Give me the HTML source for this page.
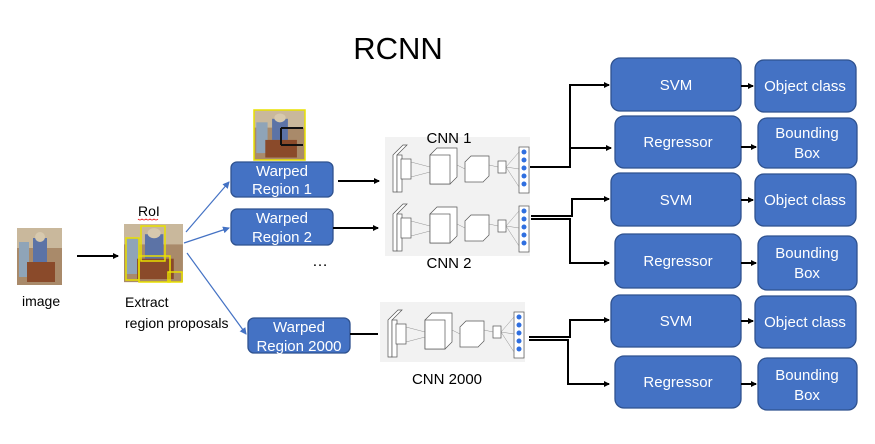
<!DOCTYPE html>
<html><head><meta charset="utf-8"><style>
html,body{margin:0;padding:0;background:#fff;}
svg{display:block;font-family:"Liberation Sans","DejaVu Sans",sans-serif;}
.b{fill:#4472c4;stroke:#2f528f;stroke-width:1.3;}
.t{fill:#fff;font-size:15px;text-anchor:middle;}
.k{stroke:#000;stroke-width:2;fill:none;}
.bl{stroke:#4472c4;stroke-width:1.2;fill:none;}
.lbl{font-size:14px;fill:#000;}
</style></head><body>
<svg width="875" height="444" viewBox="0 0 875 444" xmlns="http://www.w3.org/2000/svg">
<defs>
<marker id="a" markerWidth="6" markerHeight="6" refX="5" refY="3" orient="auto" markerUnits="userSpaceOnUse"><path d="M0,0 L6,3 L0,6z" fill="#000"/></marker>
<marker id="ab" markerWidth="7" markerHeight="7" refX="6" refY="3.5" orient="auto" markerUnits="userSpaceOnUse"><path d="M0,0 L7,3.5 L0,7z" fill="#4472c4"/></marker>
<g id="cnn">
<rect x="0" y="0" width="145" height="60" fill="#f2f2f2"/>
<g stroke="#555" stroke-width="0.7" fill="#fff">
<path d="M8,18 L18,8 L22,8 L12,18 L12,55 L8,55z"/>
<rect x="12" y="18" width="5" height="37"/>
<rect x="16" y="22" width="10" height="20"/>
<path d="M45,18 L52,11 L72,11 L72,40 L65,47 L45,47z"/>
<rect x="45" y="18" width="20" height="29"/>
<rect x="80" y="25" width="18" height="20"/>
<path d="M80,25 L86,19 L104,19 L104,39 L98,45"/>
<rect x="113" y="24" width="8" height="12"/>
<rect x="134" y="10" width="10" height="46"/>
</g>
<g stroke="#777" stroke-width="0.4"><path d="M26,25 L45,30 M26,40 L45,35 M72,28 L80,32 M104,28 L113,30 M121,30 L134,15 M121,30 L134,50 M121,30 L134,32"/></g>
<g fill="#2f6fe0"><circle cx="139" cy="15" r="2.5"/><circle cx="139" cy="23" r="2.5"/><circle cx="139" cy="31" r="2.5"/><circle cx="139" cy="39" r="2.5"/><circle cx="139" cy="47" r="2.5"/></g>
</g>
<g id="photo">
<rect x="0" y="0" width="45" height="57" fill="#a98a6a"/>
<rect x="0" y="0" width="45" height="20" fill="#c9b89c"/>
<rect x="2" y="14" width="10" height="35" fill="#8fa4b8"/>
<rect x="16" y="10" width="14" height="24" fill="#5c73a6"/>
<circle cx="23" cy="9" r="5" fill="#d7c9ae"/>
<rect x="10" y="34" width="28" height="20" fill="#8a4a2a"/>
</g>
</defs>
<text x="398" y="59" font-size="31" text-anchor="middle" fill="#000">RCNN</text>

<use href="#photo" x="17" y="228"/>
<text x="22" y="306" class="lbl">image</text>
<line x1="77" y1="256" x2="118" y2="256" class="k" marker-end="url(#a)"/>

<use href="#photo" transform="translate(124,224) scale(1.31,1.02)"/>
<g fill="none" stroke="#e8e000" stroke-width="1.5">
<rect x="141" y="226" width="24" height="35"/><rect x="126" y="238" width="13" height="42"/><rect x="139" y="256" width="31" height="26"/><rect x="168" y="272" width="14" height="10"/>
</g>
<text x="138" y="216" class="lbl">RoI</text>
<path d="M138,219 q2,2 4,0 q2,2 4,0 q2,2 4,0 q2,2 4,0 q2,2 4,0" stroke="#e00" stroke-width="0.8" fill="none"/>
<text x="125" y="307" class="lbl">Extract</text>
<text x="125" y="328" class="lbl">region proposals</text>

<line x1="186" y1="232" x2="229" y2="182" class="bl" marker-end="url(#ab)"/>
<line x1="184" y1="243" x2="229" y2="228" class="bl" marker-end="url(#ab)"/>
<line x1="187" y1="253" x2="246" y2="334" class="bl" marker-end="url(#ab)"/>

<g transform="translate(254,110) scale(1.13,0.88)"><use href="#photo"/></g>
<rect x="254" y="110" width="51" height="50" fill="none" stroke="#e8e000" stroke-width="1.5"/>
<path d="M281,128 L303,128 M281,145 L303,145 M281,128 L281,145" stroke="#111" stroke-width="2" fill="none"/>

<rect x="231" y="162" width="102" height="35" rx="6" class="b"/>
<text x="282" y="176" class="t">Warped</text><text x="282" y="194" class="t">Region 1</text>
<rect x="231" y="209" width="102" height="36" rx="6" class="b"/>
<text x="282" y="223" class="t">Warped</text><text x="282" y="242" class="t">Region 2</text>
<text x="320" y="266" font-size="16" text-anchor="middle">…</text>
<rect x="248" y="318" width="102" height="35" rx="6" class="b"/>
<text x="299" y="332" class="t">Warped</text><text x="299" y="351" class="t">Region 2000</text>

<line x1="338" y1="181" x2="379" y2="181" class="k" marker-end="url(#a)"/>
<line x1="333" y1="228" x2="378" y2="228" class="k" marker-end="url(#a)"/>
<line x1="350" y1="334" x2="378" y2="334" class="k"/>

<use href="#cnn" x="385" y="137"/>
<use href="#cnn" x="385" y="196"/>
<use href="#cnn" x="380" y="302"/>
<text x="449" y="143" font-size="15" text-anchor="middle">CNN 1</text>
<text x="449" y="268" font-size="15" text-anchor="middle">CNN 2</text>
<text x="447" y="384" font-size="15" text-anchor="middle">CNN 2000</text>

<path d="M530,167 L570,167 L570,85 L609,85" class="k" marker-end="url(#a)"/>
<path d="M570,148 L611,148" class="k" marker-end="url(#a)"/>
<path d="M531,216 L572,216 L572,199 L609,199" class="k" marker-end="url(#a)"/>
<path d="M531,219 L570,219 L570,263 L609,263" class="k" marker-end="url(#a)"/>
<path d="M529,337 L570,337 L570,320 L609,320" class="k" marker-end="url(#a)"/>
<path d="M529,340 L568,340 L568,384 L609,384" class="k" marker-end="url(#a)"/>

<rect x="611" y="58" width="130" height="53" rx="9" class="b"/><text x="676" y="90" class="t">SVM</text>
<rect x="615" y="116" width="126" height="52" rx="9" class="b"/><text x="678" y="147" class="t">Regressor</text>
<rect x="611" y="173" width="130" height="53" rx="9" class="b"/><text x="676" y="205" class="t">SVM</text>
<rect x="615" y="234" width="126" height="54" rx="9" class="b"/><text x="678" y="266" class="t">Regressor</text>
<rect x="611" y="295" width="130" height="52" rx="9" class="b"/><text x="676" y="326" class="t">SVM</text>
<rect x="615" y="356" width="126" height="52" rx="9" class="b"/><text x="678" y="387" class="t">Regressor</text>

<rect x="755" y="60" width="101" height="52" rx="9" class="b"/><text x="805" y="91" class="t">Object class</text>
<rect x="758" y="118" width="99" height="50" rx="9" class="b"/><text x="807" y="138" class="t">Bounding</text><text x="807" y="158" class="t">Box</text>
<rect x="755" y="174" width="101" height="52" rx="9" class="b"/><text x="805" y="205" class="t">Object class</text>
<rect x="758" y="236" width="99" height="54" rx="9" class="b"/><text x="807" y="258" class="t">Bounding</text><text x="807" y="278" class="t">Box</text>
<rect x="755" y="296" width="101" height="52" rx="9" class="b"/><text x="805" y="327" class="t">Object class</text>
<rect x="758" y="358" width="99" height="52" rx="9" class="b"/><text x="807" y="380" class="t">Bounding</text><text x="807" y="400" class="t">Box</text>

<line x1="741" y1="86" x2="753" y2="86" class="k" marker-end="url(#a)"/>
<line x1="741" y1="200" x2="753" y2="200" class="k" marker-end="url(#a)"/>
<line x1="741" y1="321" x2="753" y2="321" class="k" marker-end="url(#a)"/>
<line x1="741" y1="147" x2="756" y2="147" class="k" marker-end="url(#a)"/>
<line x1="741" y1="263" x2="756" y2="263" class="k" marker-end="url(#a)"/>
<line x1="741" y1="384" x2="756" y2="384" class="k" marker-end="url(#a)"/>
</svg>
</body></html>
